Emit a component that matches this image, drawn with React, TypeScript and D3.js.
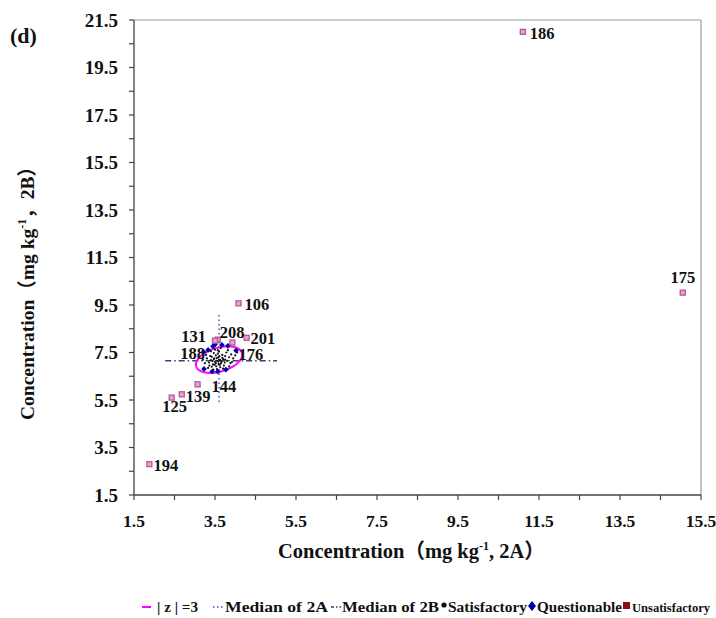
import React from 'react';
import * as d3 from 'd3';

// ---- data ----
const xMajor = [1.5, 3.5, 5.5, 7.5, 9.5, 11.5, 13.5, 15.5];
const yMajor = [1.5, 3.5, 5.5, 7.5, 9.5, 11.5, 13.5, 15.5, 17.5, 19.5, 21.5];
const xMinor = [2.5, 4.5, 6.5, 8.5, 10.5, 12.5, 14.5];
const yMinor = [2.5, 4.5, 6.5, 8.5, 10.5, 12.5, 14.5, 16.5, 18.5, 20.5];

// Satisfactory labs (black dots)
const satX = [3.55, 3.60, 3.50, 3.65, 3.58, 3.48, 3.70, 3.62, 3.45, 3.53,
  3.75, 3.40, 3.68, 3.57, 3.80, 3.35, 3.52, 3.85, 3.42, 3.63,
  3.72, 3.30, 3.90, 3.47, 3.60, 3.78, 3.38, 3.55, 3.70, 3.25,
  3.95, 3.50, 3.66, 3.44, 3.59, 3.54, 3.61, 3.49, 3.74, 3.36,
  4.00, 3.28, 3.82, 3.40, 3.88, 3.20, 3.64, 4.05, 3.33, 3.57,
  3.85, 3.46, 3.68, 3.52, 3.58, 3.63, 3.47, 3.75, 3.42, 3.92];
const satY = [7.15, 7.20, 7.10, 7.05, 7.30, 7.25, 7.22, 6.98, 7.00, 6.92,
  7.35, 7.18, 7.40, 7.45, 7.15, 7.08, 7.38, 7.30, 6.90, 6.88,
  6.95, 7.25, 7.42, 7.48, 7.55, 7.50, 7.35, 6.80, 6.82, 7.05,
  7.25, 7.62, 7.12, 7.14, 7.02, 7.26, 7.34, 6.98, 7.08, 6.95,
  7.38, 7.40, 7.60, 7.55, 7.05, 7.20, 7.68, 7.50, 6.85, 7.60,
  6.92, 6.78, 7.28, 7.05, 7.12, 7.18, 7.22, 7.20, 7.32, 7.10];

// Questionable labs (blue diamonds)
const qX = [3.22, 3.33, 3.45, 3.50, 3.67, 3.82, 4.02, 3.23, 3.43, 3.57, 3.77];
const qY = [7.52, 7.61, 7.76, 7.84, 7.82, 7.78, 7.58, 6.81, 6.70, 6.70, 6.78];

// Unsatisfactory labs (squares)
const outX = [11.1, 15.05, 4.08, 4.28, 3.57, 3.50, 3.93, 3.07, 2.68, 2.43, 1.88];
const outY = [21.0, 10.02, 9.57, 8.12, 8.04, 8.00, 7.92, 6.16, 5.74, 5.60, 2.80];

// Lab code labels, attached to the point they mark
const labelText = ['186', '175', '106', '201', '208', '131', '176', '188', '144', '139', '125', '194'];
const labelX = [11.1, 15.05, 4.08, 4.28, 3.57, 3.50, 3.93, 3.33, 3.07, 2.68, 2.43, 1.88];
const labelY = [21.0, 10.02, 9.57, 8.12, 8.04, 8.00, 7.92, 7.61, 6.16, 5.74, 5.60, 2.80];
const labelDx = [7, 0, 6, 4, 2, -9, 6, -3, 14, 4, 3, 4];
const labelDy = [7, -10, 7, 6, -2, 1, 17, 9, 8, 8, 14, 7];
const labelAnchor = ['start', 'middle', 'start', 'start', 'start', 'end', 'start', 'end', 'start', 'start', 'middle', 'start'];

// medians and |z|=3 ellipse
const median2A = 3.6;
const median2B = 7.15;
const median2AExtent = [5.42, 9.08];
const median2BExtent = [2.27, 5.03];
const ellCenter = [3.6, 7.2];
const ellHalf = [0.57, 0.56];
const ellPhaseDeg = 68;

const serif = '"Liberation Serif", "Times New Roman", serif';
const cjk = '"Noto Sans CJK SC", sans-serif';

export default function App() {
  const W = 716, H = 618;
  const x = d3.scaleLinear().domain([1.5, 15.5]).range([134, 701]);
  const y = d3.scaleLinear().domain([1.5, 21.5]).range([495, 20]);

  const phase = (ellPhaseDeg * Math.PI) / 180;
  const ts = d3.range(0, 2 * Math.PI + 0.01, Math.PI / 90);
  const ellPath = d3.line<number>()
    .x((t) => x(ellCenter[0] + ellHalf[0] * Math.cos(t)))
    .y((t) => y(ellCenter[1] + ellHalf[1] * Math.cos(t - phase)))(ts) || '';

  const sq = 5;
  const dia = 2.8;
  const x0 = x.range()[0], x1 = x.range()[1];
  const y0 = y.range()[0], y1 = y.range()[1];

  const legY = 607;

  return (
    <svg width={W} height={H} style={{ position: 'absolute', left: 0, top: 0, background: '#fff' }}
      fontFamily={serif} fontWeight="bold">
      <rect x={0} y={0} width={W} height={H} fill="#fff" />
      {/* frame */}
      <line x1={x0} x2={x1} y1={y1} y2={y1} stroke="#9a9a9a" strokeWidth={1.2} />
      <line x1={x1} x2={x1} y1={y1} y2={y0} stroke="#9a9a9a" strokeWidth={1.2} />
      {/* axes */}
      <line x1={x0} x2={x1} y1={y0} y2={y0} stroke="#444" strokeWidth={1.3} />
      <line x1={x0} x2={x0} y1={y1} y2={y0} stroke="#444" strokeWidth={1.3} />
      {[...xMajor, ...xMinor].map((v) => (
        <line key={'xt' + v} x1={x(v)} x2={x(v)} y1={y0} y2={y0 + 5} stroke="#444" strokeWidth={1.2} />
      ))}
      {[...yMajor, ...yMinor].map((v) => (
        <line key={'yt' + v} x1={x0 - 5} x2={x0} y1={y(v)} y2={y(v)} stroke="#444" strokeWidth={1.2} />
      ))}
      {xMajor.map((v) => (
        <text key={'xl' + v} x={x(v)} y={y0 + 32} textAnchor="middle" fontSize={17.5} fill="#111">{v.toFixed(1)}</text>
      ))}
      {yMajor.map((v) => (
        <text key={'yl' + v} x={x0 - 16} y={y(v) + 6.5} textAnchor="end" fontSize={19} fill="#111">{v.toFixed(1)}</text>
      ))}

      {/* axis titles */}
      <text x={278} y={558} fontSize={20.5} fill="#111">
        Concentration<tspan fontFamily={cjk}>（</tspan>mg kg<tspan dy={-8} fontSize={12}>-1</tspan><tspan dy={8}>, 2A</tspan><tspan fontFamily={cjk}>）</tspan>
      </text>
      <text transform={`translate(34,420) rotate(-90)`} fontSize={19.5} fill="#111">
        Concentration<tspan fontFamily={cjk}>（</tspan>mg kg<tspan dy={-8} fontSize={12}>-1</tspan><tspan dy={8} fontFamily={cjk}>，</tspan><tspan>2B</tspan><tspan fontFamily={cjk}>）</tspan>
      </text>
      <text x={10} y={43} fontSize={22} fill="#111">(d)</text>

      {/* median lines */}
      <line x1={x(median2A)} x2={x(median2A)} y1={y(median2AExtent[0])} y2={y(median2AExtent[1])}
        stroke="#5050c8" strokeWidth={1.5} strokeDasharray="1.5,3" />
      <line x1={x(median2BExtent[0])} x2={x(median2BExtent[1])} y1={y(median2B)} y2={y(median2B)}
        stroke="#3c3c78" strokeWidth={1.4} strokeDasharray="6,3,1.5,3" />

      {/* ellipse */}
      <path d={ellPath} fill="none" stroke="#ff00ff" strokeWidth={2} />

      {/* satisfactory */}
      {satX.map((v, i) => (
        <circle key={'s' + i} cx={x(v)} cy={y(satY[i])} r={1.1} fill="#111" />
      ))}
      {/* questionable */}
      {qX.map((v, i) => {
        const cx = x(v), cy = y(qY[i]);
        return <path key={'q' + i} d={`M${cx},${cy - dia}L${cx + dia},${cy}L${cx},${cy + dia}L${cx - dia},${cy}Z`} fill="#0000b0" />;
      })}
      {/* unsatisfactory */}
      {outX.map((v, i) => (
        <rect key={'o' + i} x={x(v) - sq / 2} y={y(outY[i]) - sq / 2} width={sq} height={sq}
          fill="#e2a8cf" stroke="#b5579a" strokeWidth={1.3} />
      ))}
      {/* labels */}
      {labelText.map((t, i) => (
        <text key={'l' + t} x={x(labelX[i]) + labelDx[i]} y={y(labelY[i]) + labelDy[i]}
          textAnchor={labelAnchor[i] as any} fontSize={16.5} fill="#111">{t}</text>
      ))}

      {/* legend */}
      <line x1={142} x2={151} y1={legY} y2={legY} stroke="#ff00ff" strokeWidth={2} />
      <text x={157} y={legY + 5} fontSize={15} fill="#111" textLength={41} lengthAdjust="spacingAndGlyphs">| z | =3</text>
      <line x1={213} x2={223} y1={legY} y2={legY} stroke="#5050c8" strokeWidth={1.5} strokeDasharray="1.5,2.5" />
      <text x={225} y={legY + 5} fontSize={15.5} fill="#111" textLength={103} lengthAdjust="spacingAndGlyphs">Median of 2A</text>
      <line x1={331} x2={341} y1={legY} y2={legY} stroke="#3c3c78" strokeWidth={1.4} strokeDasharray="3,2,1.5,2" />
      <text x={342} y={legY + 5} fontSize={15.5} fill="#111" textLength={97} lengthAdjust="spacingAndGlyphs">Median of 2B</text>
      <circle cx={444} cy={legY - 2} r={2.6} fill="#111" />
      <text x={448} y={legY + 5} fontSize={15.5} fill="#111" textLength={79} lengthAdjust="spacingAndGlyphs">Satisfactory</text>
      <path d={`M532,${legY - 6}L536,${legY - 1}L532,${legY + 4}L528,${legY - 1}Z`} fill="#0000b0" />
      <text x={537} y={legY + 5} fontSize={15.5} fill="#111" textLength={85} lengthAdjust="spacingAndGlyphs">Questionable</text>
      <rect x={623} y={legY - 5} width={7} height={7} fill="#8b1010" />
      <text x={632} y={legY + 5} fontSize={13.5} fill="#111" textLength={78} lengthAdjust="spacingAndGlyphs">Unsatisfactory</text>
    </svg>
  );
}
